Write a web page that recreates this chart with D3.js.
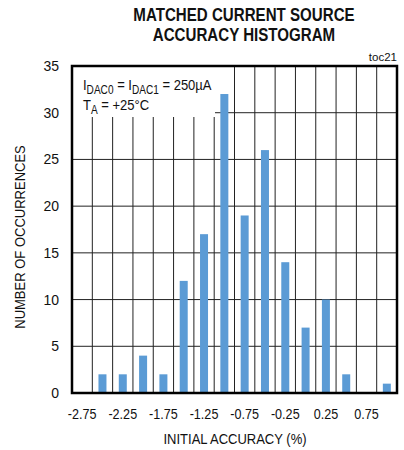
<!DOCTYPE html>
<html><head><meta charset="utf-8">
<script src="https://cdn.jsdelivr.net/npm/d3@7"></script>
<style>body{margin:0;background:#fff}svg{display:block}text{font-family:"Liberation Sans",Arial,sans-serif;fill:#111}</style>
</head><body><svg id="c" width="404" height="450"></svg>
<script>
const categories = ["-2.75","-2.5","-2.25","-2","-1.75","-1.5","-1.25","-1","-0.75","-0.5","-0.25","0","0.25","0.5","0.75","1"];
const counts = [0,2,2,4,2,12,17,32,19,26,14,7,10,2,0,1];
const xTickLabels = ["-2.75","-2.25","-1.75","-1.25","-0.75","-0.25","0.25","0.75"];
const yTicks = [0,5,10,15,20,25,30,35];
const titleLines = ["MATCHED CURRENT SOURCE","ACCURACY HISTOGRAM"];

const SX=0.84; // condensed look
const L=72,R=397,T=66,B=393;
const svg=d3.select("#c");
const x=d3.scaleBand().domain(categories).range([L,R]).padding(0);
const y=d3.scaleLinear().domain([0,35]).range([B,T]);

// title
svg.selectAll("text.title").data(titleLines).join("text").attr("class","title")
  .attr("transform",(d,i)=>`translate(244,${21+i*20}) scale(${SX},1)`).attr("text-anchor","middle")
  .style("font-weight","bold").style("font-size","18px").text(d=>d);

svg.append("text").attr("x",397).attr("y",61).attr("text-anchor","end").style("font-size","11.5px").text("toc21");

const g=svg.append("g");
g.selectAll("line.h").data(yTicks.slice(1,-1)).join("line")
  .attr("x1",L).attr("x2",R).attr("y1",d=>y(d)).attr("y2",d=>y(d))
  .attr("stroke","#222").attr("stroke-width",1);
g.selectAll("line.v").data(categories.slice(1)).join("line")
  .attr("x1",d=>x(d)).attr("x2",d=>x(d)).attr("y1",T).attr("y2",B)
  .attr("stroke","#222").attr("stroke-width",1);

// legend box
svg.append("rect").attr("x",L).attr("y",T).attr("width",143).attr("height",51).attr("fill","#fff");
const lg=svg.append("text").attr("transform",`translate(83,90) scale(${SX},1)`).style("font-size","15.5px");
lg.append("tspan").text("I");
lg.append("tspan").attr("dy",4).style("font-size","12px").text("DAC0");
lg.append("tspan").attr("dy",-4).text(" = I");
lg.append("tspan").attr("dy",4).style("font-size","12px").text("DAC1");
lg.append("tspan").attr("dy",-4).text(" = 250µA");
const lg2=svg.append("text").attr("transform",`translate(83,110) scale(${SX},1)`).style("font-size","15.5px");
lg2.append("tspan").text("T");
lg2.append("tspan").attr("dy",4).style("font-size","12px").text("A");
lg2.append("tspan").attr("dy",-4).text(" = +25°C");

// bars
const bw=8;
svg.selectAll("rect.bar").data(counts.map((v,i)=>({c:categories[i],v}))).join("rect")
  .attr("class","bar")
  .attr("x",d=>x(d.c)+x.bandwidth()/2-bw/2).attr("width",bw)
  .attr("y",d=>y(d.v)).attr("height",d=>B-y(d.v))
  .attr("fill","#5B9BD5");

// frame
svg.append("rect").attr("x",L).attr("y",T).attr("width",R-L).attr("height",B-T)
  .attr("fill","none").attr("stroke","#000").attr("stroke-width",2.5);

// axes
const ya=svg.append("g").attr("transform",`translate(${L},0)`)
  .call(d3.axisLeft(y).tickValues(yTicks).tickSize(0).tickPadding(13));
ya.select(".domain").remove();
ya.selectAll("text").style("font-size","14px").style("font-family","'Liberation Sans',Arial,sans-serif").attr("fill","#111");

const xa=svg.append("g").attr("transform",`translate(0,${B})`)
  .call(d3.axisBottom(x).tickValues(xTickLabels).tickSize(0).tickPadding(15));
xa.select(".domain").remove();
xa.selectAll("text").style("font-size","15px").style("font-family","'Liberation Sans',Arial,sans-serif")
  .attr("fill","#111").attr("transform",`scale(${SX},1)`);

svg.append("text").attr("transform",`translate(235,444) scale(${SX},1)`).attr("text-anchor","middle").style("font-size","15.5px").text("INITIAL ACCURACY (%)");
svg.append("text").attr("transform",`translate(25,237) rotate(-90) scale(${SX},1)`).attr("text-anchor","middle").style("font-size","15.5px").text("NUMBER OF OCCURRENCES");
</script></body></html>
